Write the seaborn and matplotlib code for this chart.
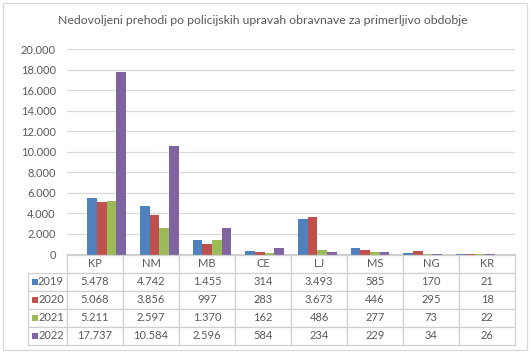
#!/usr/bin/env python3
#
# Nedovoljeni prehodi po policijskih upravah (Excel-style bar chart + data table)
#
import numpy as np
import pandas as pd
import matplotlib
matplotlib.use('Agg')
import matplotlib.pyplot as plt
import seaborn as sns
from matplotlib.patches import Rectangle

# Data
uprave = ['KP', 'NM', 'MB', 'CE', 'LJ', 'MS', 'NG', 'KR']
leta = ['2019', '2020', '2021', '2022']
v2019 = [5478, 4742, 1455, 314, 3493, 585, 170, 21]
v2020 = [5068, 3856, 997, 283, 3673, 446, 295, 18]
v2021 = [5211, 2597, 1370, 162, 486, 277, 73, 22]
v2022 = [17737, 10584, 2596, 584, 234, 229, 34, 26]
yticks = list(range(0, 20001, 2000))

title = 'Nedovoljeni prehodi po policijskih upravah obravnave za primerljivo obdobje'
colors = ['#4F81BD', '#C0504D', '#9BBB59', '#8064A2']

series = [v2019, v2020, v2021, v2022]
df = pd.DataFrame({
    'uprava': np.tile(uprave, len(leta)),
    'leto': np.repeat(leta, len(uprave)),
    'value': np.concatenate(series),
})


def dots(n):
    return f'{n:,}'.replace(',', '.')


sns.set_style('white')
plt.rcParams['font.family'] = ['Lato', 'DejaVu Sans']
text_col = '#595959'
grid_col = '#D9D9D9'
line_col = '#D0D0D0'

W, H = 531, 353
fig = plt.figure(figsize=(W / 100, H / 100), dpi=100)

# Outer chart border
fig.patches.append(Rectangle((3 / W, 1 - 350 / H), 524 / W, 347 / H,
                             transform=fig.transFigure, fill=False,
                             edgecolor=grid_col, linewidth=0.9))

x0, x1, ytop, ybot = 67, 515, 49, 254.5
ax = fig.add_axes([x0 / W, 1 - ybot / H, (x1 - x0) / W, (ybot - ytop) / H])

sns.barplot(data=df, x='uprava', y='value', hue='leto', order=uprave,
            hue_order=leta, palette=colors, width=0.73, ax=ax,
            saturation=1, linewidth=0, legend=False)

ax.set_ylim(0, 20000)
ax.set_yticks(yticks)
ax.set_yticklabels([dots(t) for t in yticks])
ax.tick_params(axis='y', length=0, pad=8, labelsize=8, labelcolor=text_col)
ax.set_xticks([])
ax.set_xlabel(None)
ax.set_ylabel(None)
ax.grid(axis='y', color=grid_col, linewidth=0.9)
ax.set_axisbelow(True)
for s in ['left', 'right', 'top']:
    ax.spines[s].set_visible(False)
ax.spines['bottom'].set_color(line_col)
ax.spines['bottom'].set_linewidth(0.9)

fig.text(0.495, 1 - 21 / H, title, ha='center', va='center',
         fontsize=8.8, color=text_col)

# Data table under the plot
axw, axh = x1 - x0, ybot - ytop
tab_left, tab_bot = 28, 345
cell_text = [[leto] + [dots(v) for v in vals] for leto, vals in zip(leta, series)]
col_widths = [39] + [56] * len(uprave)
tab = ax.table(cellText=cell_text, colLabels=[''] + uprave,
               colWidths=col_widths, cellLoc='center',
               bbox=[(tab_left - x0) / axw, -(tab_bot - ybot) / axh,
                     (x1 - tab_left) / axw, (tab_bot - ybot) / axh])
tab.auto_set_font_size(False)
tab.set_fontsize(8)
for (r, c), cell in tab.get_celld().items():
    cell.set_edgecolor(line_col)
    cell.set_linewidth(0.9)
    cell.get_text().set_color(text_col)
    if c == 0:
        cell._loc = 'right'
        cell.PAD = 0.08
        cell.get_text().set_ha('right')
tab[0, 0].visible_edges = 'R'

# Legend keys in the table
row_h = (tab_bot - ybot) / 5
for i, col in enumerate(colors):
    yc = ybot + row_h * (i + 1.5)
    ax.scatter([(35 - x0) / axw], [-(yc - ybot) / axh], marker='s', s=18,
               color=col, transform=ax.transAxes, clip_on=False, linewidths=0)

plt.savefig('out.png', dpi=100)
